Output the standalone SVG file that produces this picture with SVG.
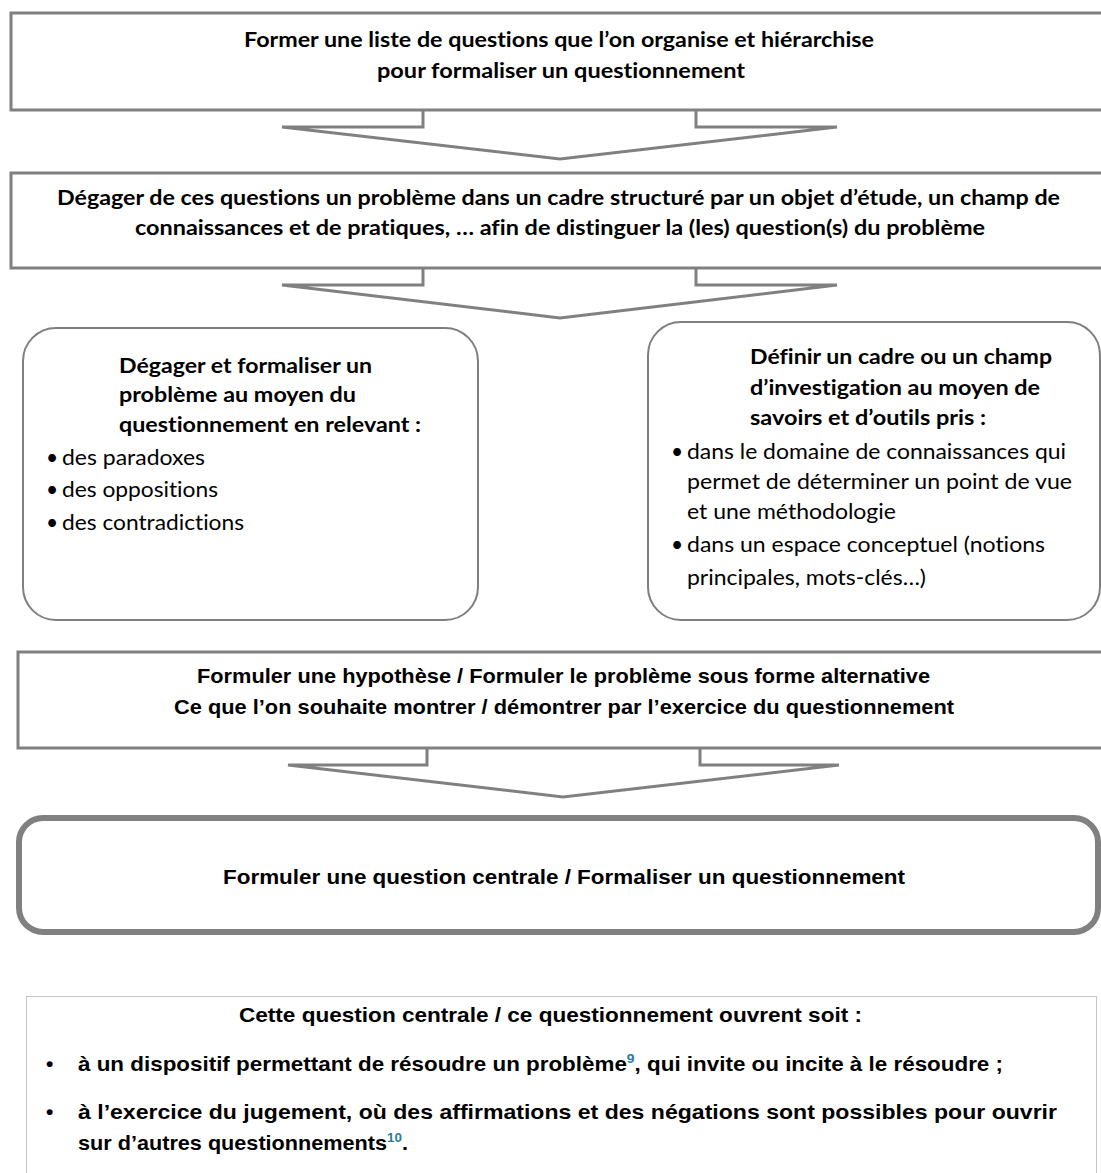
<svg xmlns="http://www.w3.org/2000/svg" width="1101" height="1173" viewBox="0 0 1101 1173">
<style>
.box{fill:#fff;stroke:#808080;stroke-width:3}
.rbox{fill:#fff;stroke:#7f7f7f;stroke-width:2}
.thick{fill:#fff;stroke:#808080;stroke-width:6}
.dot{fill:#fff;stroke:#8a8a8a;stroke-width:1;stroke-dasharray:1 1}
.arrow{fill:none;stroke:#808080;stroke-width:3;stroke-linejoin:miter}
text{font-variant-ligatures:none}
.cb{font-family:Lato,"Open Sans","Noto Sans",sans-serif;font-weight:700;font-size:21px;fill:#000}
.cr{font-family:Lato,"Open Sans","Noto Sans",sans-serif;font-weight:400;font-size:21px;fill:#000}
.cbh{font-family:Lato,"Open Sans","Noto Sans",sans-serif;font-weight:700;font-size:21px;fill:#000}
.ab{font-family:"Liberation Sans",Arial,sans-serif;font-weight:700;font-size:21px;fill:#000}
.sup{font-size:13px;fill:#2b7ba3}
</style>
<rect width="1101" height="1173" fill="#fff"/>

<g id="connectors">
<polyline class="arrow" points="423,111 423,127 282,127 560,159 837,127 696,127 696,111"/>
<polyline class="arrow" points="423,269 423,285 282,285 560,318 837,285 696,285 696,269"/>
<polyline class="arrow" points="427,749 427,765 288,765 563,797 839,765 700,765 700,749"/>
</g>

<g id="node-liste">
<rect class="box" x="11" y="13" width="1100" height="97"/>
<text class="cb" x="559" y="47" text-anchor="middle" textLength="630" lengthAdjust="spacingAndGlyphs">Former une liste de questions que l’on organise et hiérarchise</text>
<text class="cb" x="561" y="78" text-anchor="middle" textLength="368" lengthAdjust="spacingAndGlyphs">pour formaliser un questionnement</text>
</g>

<g id="node-probleme">
<rect class="box" x="11" y="173" width="1100" height="95"/>
<text class="cb" x="558.5" y="205" text-anchor="middle" textLength="1003" lengthAdjust="spacingAndGlyphs">Dégager de ces questions un problème dans un cadre structuré par un objet d’étude, un champ de</text>
<text class="cb" x="560" y="235" text-anchor="middle" textLength="850" lengthAdjust="spacingAndGlyphs">connaissances et de pratiques, … afin de distinguer la (les) question(s) du problème</text>
</g>

<g id="node-formaliser">
<rect class="rbox" x="23" y="328" width="455" height="292" rx="33" ry="33"/>
<text class="cbh" x="119" y="373" textLength="253" lengthAdjust="spacingAndGlyphs">Dégager et formaliser un</text>
<text class="cbh" x="119" y="402" textLength="237" lengthAdjust="spacingAndGlyphs">problème au moyen du</text>
<text class="cbh" x="119" y="432" textLength="302" lengthAdjust="spacingAndGlyphs">questionnement en relevant :</text>
<text class="cr" x="46" y="465">•</text>
<text class="cr" x="62" y="465" textLength="143" lengthAdjust="spacingAndGlyphs">des paradoxes</text>
<text class="cr" x="46" y="497">•</text>
<text class="cr" x="62" y="497" textLength="156" lengthAdjust="spacingAndGlyphs">des oppositions</text>
<text class="cr" x="46" y="530">•</text>
<text class="cr" x="62" y="530" textLength="182" lengthAdjust="spacingAndGlyphs">des contradictions</text>
</g>

<g id="node-cadre">
<rect class="rbox" x="648" y="322" width="452" height="298" rx="33" ry="33"/>
<text class="cbh" x="750" y="364" textLength="302" lengthAdjust="spacingAndGlyphs">Définir un cadre ou un champ</text>
<text class="cbh" x="750" y="395" textLength="290" lengthAdjust="spacingAndGlyphs">d’investigation au moyen de</text>
<text class="cbh" x="750" y="425" textLength="236" lengthAdjust="spacingAndGlyphs">savoirs et d’outils pris :</text>
<text class="cr" x="671" y="459">•</text>
<text class="cr" x="687" y="459" textLength="379" lengthAdjust="spacingAndGlyphs">dans le domaine de connaissances qui</text>
<text class="cr" x="687" y="489" textLength="385" lengthAdjust="spacingAndGlyphs">permet de déterminer un point de vue</text>
<text class="cr" x="687" y="519" textLength="209" lengthAdjust="spacingAndGlyphs">et une méthodologie</text>
<text class="cr" x="671" y="552">•</text>
<text class="cr" x="687" y="552" textLength="358" lengthAdjust="spacingAndGlyphs">dans un espace conceptuel (notions</text>
<text class="cr" x="687" y="585" textLength="239" lengthAdjust="spacingAndGlyphs">principales, mots-clés…)</text>
</g>

<g id="node-hypothese">
<rect class="box" x="18" y="652" width="1100" height="96"/>
<text class="ab" x="563.5" y="683" text-anchor="middle" textLength="733" lengthAdjust="spacingAndGlyphs">Formuler une hypothèse / Formuler le problème sous forme alternative</text>
<text class="ab" x="564" y="714" text-anchor="middle" textLength="780" lengthAdjust="spacingAndGlyphs">Ce que l’on souhaite montrer / démontrer par l’exercice du questionnement</text>
</g>

<g id="node-question">
<rect class="thick" x="19" y="818" width="1079" height="114" rx="24" ry="24"/>
<text class="ab" x="564" y="884" text-anchor="middle" textLength="682" lengthAdjust="spacingAndGlyphs">Formuler une question centrale / Formaliser un questionnement</text>
</g>

<g id="node-ouverture">
<rect class="dot" x="26.5" y="996.5" width="1070" height="200"/>
<text class="ab" x="550.5" y="1022" text-anchor="middle" textLength="623" lengthAdjust="spacingAndGlyphs">Cette question centrale / ce questionnement ouvrent soit :</text>
<text class="ab" x="46" y="1071">•</text>
<text class="ab" x="78" y="1071" textLength="925" lengthAdjust="spacingAndGlyphs">à un dispositif permettant de résoudre un problème<tspan class="sup" dy="-8">9</tspan><tspan dy="8">, qui invite ou incite à le résoudre ;</tspan></text>
<text class="ab" x="46" y="1119">•</text>
<text class="ab" x="78" y="1119" textLength="979" lengthAdjust="spacingAndGlyphs">à l’exercice du jugement, où des affirmations et des négations sont possibles pour ouvrir</text>
<text class="ab" x="78" y="1150" textLength="330" lengthAdjust="spacingAndGlyphs">sur d’autres questionnements<tspan class="sup" dy="-8">10</tspan><tspan dy="8">.</tspan></text>
</g>
</svg>
